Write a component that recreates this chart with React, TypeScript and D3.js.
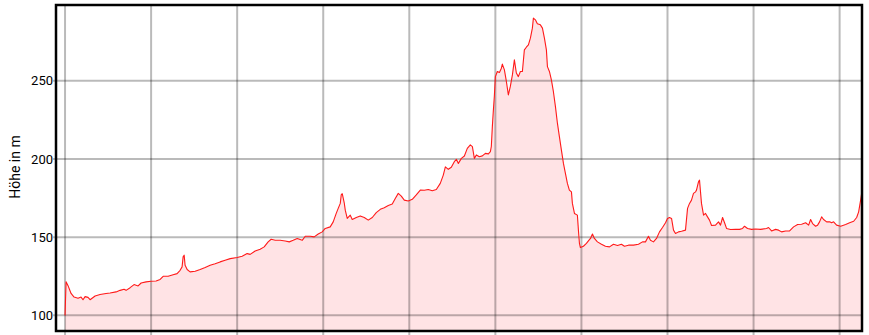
import React from "react";
import * as d3 from "d3";

// distance in km
const distKm: number[] = [
  0.000, 0.012, 0.035, 0.070, 0.105, 0.151, 0.186, 0.209, 0.233, 0.267, 0.291, 0.349, 0.407, 0.477, 0.523, 0.593,
  0.640, 0.686, 0.709, 0.756, 0.802, 0.849, 0.884, 0.942, 1.000, 1.058, 1.105, 1.140, 1.198, 1.256, 1.302, 1.337,
  1.360, 1.372, 1.384, 1.395, 1.419, 1.453, 1.512, 1.570, 1.628, 1.686, 1.744, 1.802, 1.860, 1.919, 2.000, 2.058,
  2.116, 2.151, 2.209, 2.267, 2.314, 2.360, 2.395, 2.442, 2.500, 2.558, 2.605, 2.651, 2.698, 2.756, 2.791, 2.849,
  2.895, 2.942, 2.988, 3.023, 3.081, 3.116, 3.151, 3.174, 3.198, 3.209, 3.221, 3.244, 3.256, 3.279, 3.314, 3.337,
  3.384, 3.430, 3.477, 3.523, 3.570, 3.616, 3.663, 3.709, 3.756, 3.802, 3.837, 3.872, 3.907, 3.942, 3.988, 4.035,
  4.081, 4.128, 4.174, 4.221, 4.267, 4.314, 4.360, 4.395, 4.419, 4.453, 4.488, 4.523, 4.547, 4.570, 4.605, 4.640,
  4.674, 4.709, 4.733, 4.756, 4.779, 4.814, 4.849, 4.884, 4.919, 4.942, 4.953, 4.965, 4.977, 4.988, 5.000, 5.023,
  5.047, 5.070, 5.081, 5.105, 5.128, 5.151, 5.174, 5.198, 5.221, 5.244, 5.267, 5.291, 5.314, 5.337, 5.360, 5.384,
  5.407, 5.430, 5.442, 5.465, 5.488, 5.523, 5.547, 5.570, 5.593, 5.605, 5.628, 5.651, 5.674, 5.698, 5.721, 5.744,
  5.767, 5.791, 5.814, 5.837, 5.860, 5.884, 5.895, 5.919, 5.953, 5.965, 5.977, 5.988, 6.023, 6.058, 6.081, 6.105,
  6.128, 6.151, 6.186, 6.233, 6.279, 6.326, 6.372, 6.419, 6.465, 6.500, 6.547, 6.605, 6.663, 6.709, 6.744, 6.779,
  6.802, 6.837, 6.872, 6.907, 6.942, 6.977, 7.000, 7.023, 7.047, 7.070, 7.093, 7.128, 7.163, 7.209, 7.233, 7.256,
  7.279, 7.302, 7.326, 7.337, 7.360, 7.372, 7.395, 7.419, 7.442, 7.465, 7.488, 7.512, 7.558, 7.593, 7.616, 7.640,
  7.663, 7.686, 7.733, 7.791, 7.837, 7.872, 7.895, 7.930, 7.977, 8.023, 8.081, 8.151, 8.174, 8.209, 8.256, 8.291,
  8.326, 8.372, 8.419, 8.465, 8.512, 8.558, 8.605, 8.640, 8.663, 8.686, 8.721, 8.744, 8.767, 8.791, 8.814, 8.849,
  8.884, 8.907, 8.930, 8.965, 9.012, 9.070, 9.116, 9.163, 9.198, 9.221, 9.244, 9.256,
];

// elevation in m
const elevM: number[] = [
  100, 121.5, 119, 114, 111.7, 111, 111.7, 110, 112, 111.5, 110, 112.4, 113.3, 114, 114.3, 115,
  116, 116.7, 116, 117.7, 119.7, 118.8, 120.7, 121.4, 121.8, 122, 123, 125, 125, 126, 126.7, 128.8,
  131, 137.4, 138.5, 132, 129.3, 127.8, 128.2, 129.3, 130.6, 132, 133, 134.2, 135.3, 136.3, 137, 137.8,
  139.5, 139, 141.2, 142.3, 143.8, 147, 148.7, 148, 148, 147.6, 147, 148, 149.2, 148, 150.6, 150.6,
  150.2, 152, 153.4, 155.6, 156.6, 159.8, 165.2, 168.4, 171.6, 177, 177.8, 172, 167.3, 162, 164.1, 161.3,
  162.6, 163.6, 162.6, 160.9, 162.6, 165.7, 167.8, 168.8, 170.3, 171.2, 174.8, 178, 176.3, 173.7, 173.1, 174.2,
  177, 180.1, 180, 180.5, 179.7, 180.5, 184.4, 189.7, 195, 193.4, 194.7, 198.3, 199.8, 197.2, 200.4, 201.9,
  206.8, 209, 207.9, 200.4, 202.6, 201.5, 202, 203.6, 203.3, 204.7, 208, 220.7, 231.4, 240, 252.7, 256,
  255.3, 258.1, 260.7, 257, 249.6, 241, 246.4, 253.8, 263.4, 255, 252.7, 256, 256, 269.8, 271.5, 273,
  277.3, 283.7, 290.1, 289, 286.5, 285.8, 283.7, 277.3, 269.8, 259.1, 256, 250.6, 243.2, 233.5, 222.9, 214.3,
  205.8, 197.2, 190.8, 184.4, 180.1, 179, 171.6, 165.2, 164.1, 154.5, 146, 143.4, 144.2, 146, 147.6, 149.2,
  152, 149.2, 147, 145.5, 144.2, 143.8, 145.5, 144.7, 145.5, 144.2, 144.9, 144.9, 145.5, 147, 147, 150.6,
  148, 147, 149.2, 153.4, 156.2, 159.2, 162, 162.6, 162, 154.5, 152.4, 153.4, 153.8, 154.5, 168.4, 171.6,
  173.7, 178, 179, 180.1, 185.4, 186.5, 171.6, 164.1, 165.2, 163, 160.9, 157.5, 157.7, 159.8, 157.7, 162.6,
  159.2, 155.6, 154.9, 155, 155, 155.6, 157, 155.6, 155, 155.2, 155, 155.6, 156.2, 154, 155, 154.5,
  153.4, 154, 154, 156.6, 158.1, 158.3, 159.2, 157.7, 161.3, 158.7, 157, 157.7, 159.8, 163, 161.3, 159.8,
  159.8, 159.2, 159.8, 157.7, 157, 158.1, 159.2, 160.2, 162.6, 166.2, 173.7, 178,
];

const yTicks: number[] = [100, 150, 200, 250];
const xGrid: number[] = [0, 1, 2, 3, 4, 5, 6, 7, 8, 9];
const yLabel = "Höhe in m";

const W = 869;
const H = 335;

export default function App() {
  const left = 56, right = 862, top = 5, bottom = 331;
  const x = d3.scaleLinear().domain([-0.105, 9.26]).range([left, right]);
  const y = d3.scaleLinear().domain([90, 298.5]).range([bottom, top]);
  const data = distKm.map((d, i) => ({ d, e: elevM[i] }));
  const line = d3.line<{ d: number; e: number }>().x((p) => x(p.d)).y((p) => y(p.e));
  const area = d3
    .area<{ d: number; e: number }>()
    .x((p) => x(p.d))
    .y0(bottom)
    .y1((p) => y(p.e));
  const font = "Roboto, 'Noto Sans', sans-serif";
  return (
    <svg
      width={W}
      height={H}
      style={{ position: "absolute", left: 0, top: 0, background: "#fff" }}
    >
      <path d={area(data) || ""} fill="rgb(255,0,20)" fillOpacity={0.11} />
      {xGrid.map((g) => (
        <line key={"vx" + g} x1={x(g)} x2={x(g)} y1={top} y2={H + 5} stroke="#000" strokeOpacity={0.27} strokeWidth={2} />
      ))}
      {yTicks.map((t) => (
        <line key={"hy" + t} x1={left - 3} x2={right} y1={y(t)} y2={y(t)} stroke="#000" strokeOpacity={0.27} strokeWidth={2} />
      ))}
      <path d={line(data) || ""} fill="none" stroke="#ff1a1a" strokeWidth={1.1} strokeLinejoin="round" />
      <rect x={left} y={top} width={right - left} height={bottom - top} fill="none" stroke="#000" strokeWidth={2.5} />
      {yTicks.map((t) => (
        <text key={"ty" + t} x={left - 3} y={y(t)} dy="0.35em" textAnchor="end" fontFamily={font} fontSize={13} fill="#000">
          {t}
        </text>
      ))}
      <text
        transform={`translate(${20},${167}) rotate(-90)`}
        textAnchor="middle"
        fontFamily={font}
        fontSize={14}
        fill="#000"
      >
        {yLabel}
      </text>
    </svg>
  );
}
